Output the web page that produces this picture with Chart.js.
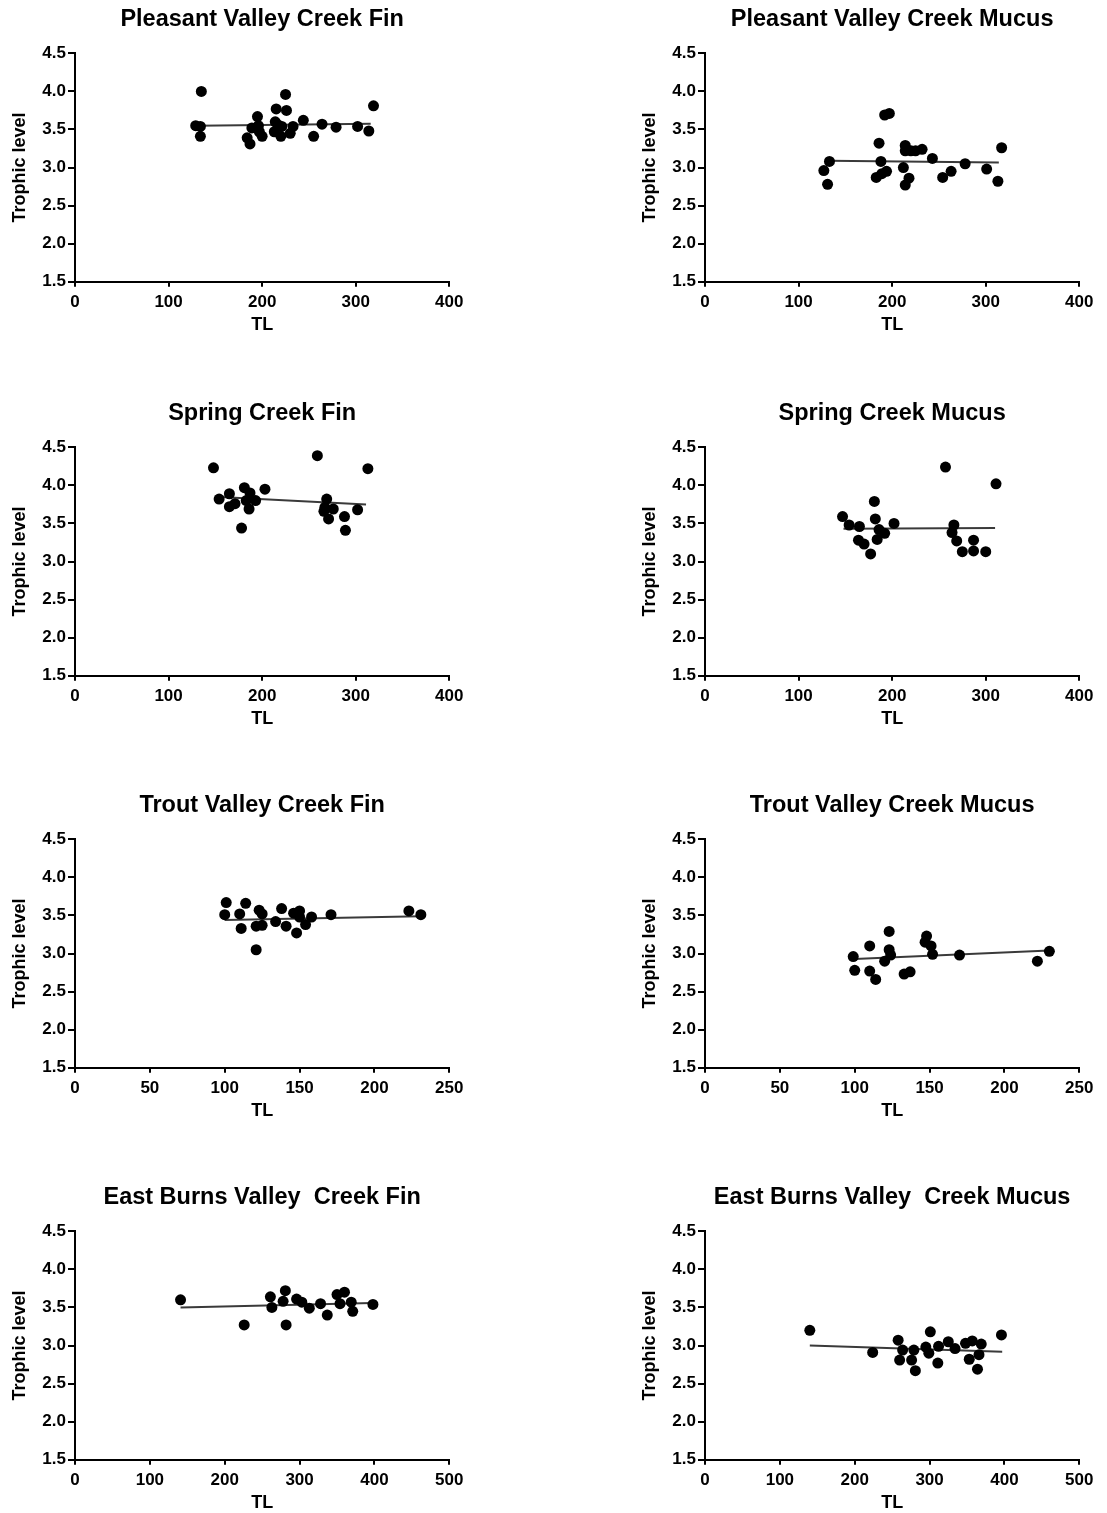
<!DOCTYPE html>
<html>
<head>
<meta charset="utf-8">
<script src="https://cdn.jsdelivr.net/npm/chart.js@4"></script>
<style>
  body { margin: 0; background: #fff; overflow: hidden; }
  .panel { position: absolute; }
</style>
</head>
<body>
<div class="panel" style="left:0px;top:0px"><canvas id="c1" width="477" height="338"></canvas></div>
<div class="panel" style="left:630px;top:0px"><canvas id="c2" width="477" height="338"></canvas></div>
<div class="panel" style="left:0px;top:394px"><canvas id="c3" width="477" height="338"></canvas></div>
<div class="panel" style="left:630px;top:394px"><canvas id="c4" width="477" height="338"></canvas></div>
<div class="panel" style="left:0px;top:786px"><canvas id="c5" width="477" height="338"></canvas></div>
<div class="panel" style="left:630px;top:786px"><canvas id="c6" width="477" height="338"></canvas></div>
<div class="panel" style="left:0px;top:1178px"><canvas id="c7" width="477" height="338"></canvas></div>
<div class="panel" style="left:630px;top:1178px"><canvas id="c8" width="477" height="338"></canvas></div>
<script>
// y axis ticks, shared by every panel
const yTicks = [1.5, 2.0, 2.5, 3.0, 3.5, 4.0, 4.5];

// Pleasant Valley Creek
const pvFinTL = [129, 134, 135, 134, 184, 187, 189, 195, 196, 197, 200, 215, 214, 213, 217, 221, 220, 225, 226, 230, 233, 244, 255, 264, 279, 302, 314, 319];
const pvFinLevel = [3.55, 3.54, 4.00, 3.41, 3.39, 3.31, 3.52, 3.67, 3.55, 3.47, 3.41, 3.77, 3.60, 3.47, 3.56, 3.54, 3.41, 3.96, 3.75, 3.45, 3.54, 3.62, 3.41, 3.57, 3.53, 3.54, 3.48, 3.81];
const pvFinFitTL = [130, 316];
const pvFinFitLevel = [3.55, 3.575];

const pvMucTL = [133, 127, 131, 192, 197, 186, 188, 183, 194, 189, 214, 214, 220, 225, 232, 212, 218, 214, 243, 254, 263, 278, 301, 313, 317];
const pvMucLevel = [3.08, 2.96, 2.78, 3.69, 3.71, 3.32, 3.08, 2.87, 2.95, 2.92, 3.29, 3.22, 3.22, 3.22, 3.24, 3.00, 2.86, 2.77, 3.12, 2.87, 2.95, 3.05, 2.98, 2.82, 3.26];
const pvMucFitTL = [132, 314];
const pvMucFitLevel = [3.09, 3.065];

// Spring Creek
const spFinTL = [148, 259, 313, 154, 165, 165, 171, 178, 181, 187, 183, 186, 193, 203, 269, 267, 266, 276, 271, 288, 289, 302];
const spFinLevel = [4.23, 4.39, 4.22, 3.82, 3.89, 3.72, 3.76, 3.44, 3.97, 3.90, 3.80, 3.69, 3.80, 3.95, 3.82, 3.71, 3.66, 3.69, 3.56, 3.59, 3.41, 3.68];
const spFinFitTL = [150, 311];
const spFinFitLevel = [3.85, 3.75];

const spMucTL = [257, 311, 147, 154, 165, 164, 170, 177, 181, 182, 186, 192, 184, 202, 266, 264, 269, 287, 275, 287, 300];
const spMucLevel = [4.24, 4.02, 3.59, 3.48, 3.46, 3.28, 3.23, 3.10, 3.79, 3.56, 3.42, 3.37, 3.29, 3.50, 3.48, 3.38, 3.27, 3.28, 3.13, 3.14, 3.13];
const spMucFitTL = [148, 310];
const spMucFitLevel = [3.43, 3.44];

// Trout Valley Creek
const trFinTL = [101, 114, 100, 110, 111, 123, 125, 121, 125, 121, 134, 138, 141, 146, 150, 150, 148, 154, 158, 171, 223, 231];
const trFinLevel = [3.67, 3.66, 3.51, 3.52, 3.33, 3.57, 3.52, 3.36, 3.37, 3.05, 3.42, 3.59, 3.36, 3.53, 3.56, 3.48, 3.27, 3.38, 3.48, 3.51, 3.56, 3.51];
const trFinFitTL = [100, 231];
const trFinFitLevel = [3.44, 3.49];

const trMucTL = [99, 100, 110, 110, 114, 123, 123, 124, 120, 133, 137, 148, 147, 151, 152, 170, 222, 230];
const trMucLevel = [2.96, 2.78, 3.10, 2.77, 2.66, 3.29, 3.05, 2.98, 2.90, 2.73, 2.76, 3.23, 3.15, 3.10, 2.99, 2.98, 2.90, 3.03];
const trMucFitTL = [100, 230];
const trMucFitLevel = [2.93, 3.04];

// East Burns Valley Creek
const ebFinTL = [141, 226, 261, 263, 278, 281, 282, 296, 303, 313, 328, 337, 350, 360, 354, 369, 371, 398];
const ebFinLevel = [3.60, 3.27, 3.64, 3.50, 3.58, 3.72, 3.27, 3.61, 3.57, 3.49, 3.55, 3.40, 3.67, 3.70, 3.55, 3.57, 3.45, 3.54];
const ebFinFitTL = [141, 397];
const ebFinFitLevel = [3.50, 3.56];

const ebMucTL = [140, 224, 258, 264, 260, 279, 276, 281, 295, 299, 301, 311, 312, 325, 334, 348, 357, 353, 369, 366, 364, 396];
const ebMucLevel = [3.20, 2.91, 3.07, 2.94, 2.81, 2.94, 2.81, 2.67, 2.98, 2.90, 3.18, 2.77, 2.99, 3.05, 2.96, 3.03, 3.06, 2.82, 3.02, 2.88, 2.69, 3.14];
const ebMucFitTL = [140, 397];
const ebMucFitLevel = [3.00, 2.92];

const FONT = "'Liberation Sans', Arial, sans-serif";

function toPoints(xs, ys) {
  return xs.map((x, i) => ({ x: x, y: ys[i] }));
}

// one scatter panel with its fitted line
function makePanel(id, title, xs, ys, fitX, fitY, xMax, xStep) {
  const ctx = document.getElementById(id).getContext("2d");
  return new Chart(ctx, {
    type: "scatter",
    data: {
      datasets: [
        {
          data: toPoints(xs, ys),
          pointRadius: 5.5,
          pointBackgroundColor: "#000",
          pointBorderWidth: 0,
        },
        {
          data: toPoints(fitX, fitY),
          showLine: true,
          pointRadius: 0,
          borderColor: "#3a3a3a",
          borderWidth: 2,
        },
      ],
    },
    options: {
      responsive: false,
      animation: false,
      devicePixelRatio: 1,
      layout: { padding: { left: 0, right: 27.7, top: 0, bottom: 0 } },
      plugins: {
        legend: { display: false },
        tooltip: { enabled: false },
        title: {
          display: true,
          text: title,
          fullSize: false,
          color: "#000",
          font: { family: FONT, size: 23.5, weight: "bold", lineHeight: 1.2 },
          padding: { top: 5.9, bottom: 19.2 },
        },
      },
      scales: {
        x: {
          type: "linear",
          min: 0,
          max: xMax,
          afterFit: (s) => { s.height = 56.2; },
          ticks: {
            stepSize: xStep,
            autoSkip: false,
            maxRotation: 0,
            padding: 5,
            color: "#000",
            font: { family: FONT, size: 17, weight: "bold" },
          },
          grid: { drawOnChartArea: false, tickLength: 5, color: "#000", lineWidth: 2 },
          border: { color: "#000", width: 2 },
          title: {
            display: true,
            text: "TL",
            color: "#000",
            font: { family: FONT, size: 18, weight: "bold", lineHeight: 1.2 },
            padding: { top: 0, bottom: 2.2 },
          },
        },
        y: {
          type: "linear",
          min: 1.5,
          max: 4.5,
          afterFit: (s) => { s.width = 75; },
          afterBuildTicks: (s) => { s.ticks = yTicks.map((v) => ({ value: v })); },
          ticks: {
            autoSkip: false,
            padding: 2,
            color: "#000",
            font: { family: FONT, size: 17, weight: "bold" },
            callback: (v) => Number(v).toFixed(1),
          },
          grid: { drawOnChartArea: false, tickLength: 7, color: "#000", lineWidth: 2 },
          border: { color: "#000", width: 2 },
          title: {
            display: true,
            text: "Trophic level",
            color: "#000",
            font: { family: FONT, size: 18, weight: "bold", lineHeight: 1.2 },
            padding: { top: 9.5, bottom: 0 },
          },
        },
      },
    },
  });
}

makePanel("c1", "Pleasant Valley Creek Fin", pvFinTL, pvFinLevel, pvFinFitTL, pvFinFitLevel, 400, 100);
makePanel("c2", "Pleasant Valley Creek Mucus", pvMucTL, pvMucLevel, pvMucFitTL, pvMucFitLevel, 400, 100);
makePanel("c3", "Spring Creek Fin", spFinTL, spFinLevel, spFinFitTL, spFinFitLevel, 400, 100);
makePanel("c4", "Spring Creek Mucus", spMucTL, spMucLevel, spMucFitTL, spMucFitLevel, 400, 100);
makePanel("c5", "Trout Valley Creek Fin", trFinTL, trFinLevel, trFinFitTL, trFinFitLevel, 250, 50);
makePanel("c6", "Trout Valley Creek Mucus", trMucTL, trMucLevel, trMucFitTL, trMucFitLevel, 250, 50);
makePanel("c7", "East Burns Valley  Creek Fin", ebFinTL, ebFinLevel, ebFinFitTL, ebFinFitLevel, 500, 100);
makePanel("c8", "East Burns Valley  Creek Mucus", ebMucTL, ebMucLevel, ebMucFitTL, ebMucFitLevel, 500, 100);
</script>
</body>
</html>
